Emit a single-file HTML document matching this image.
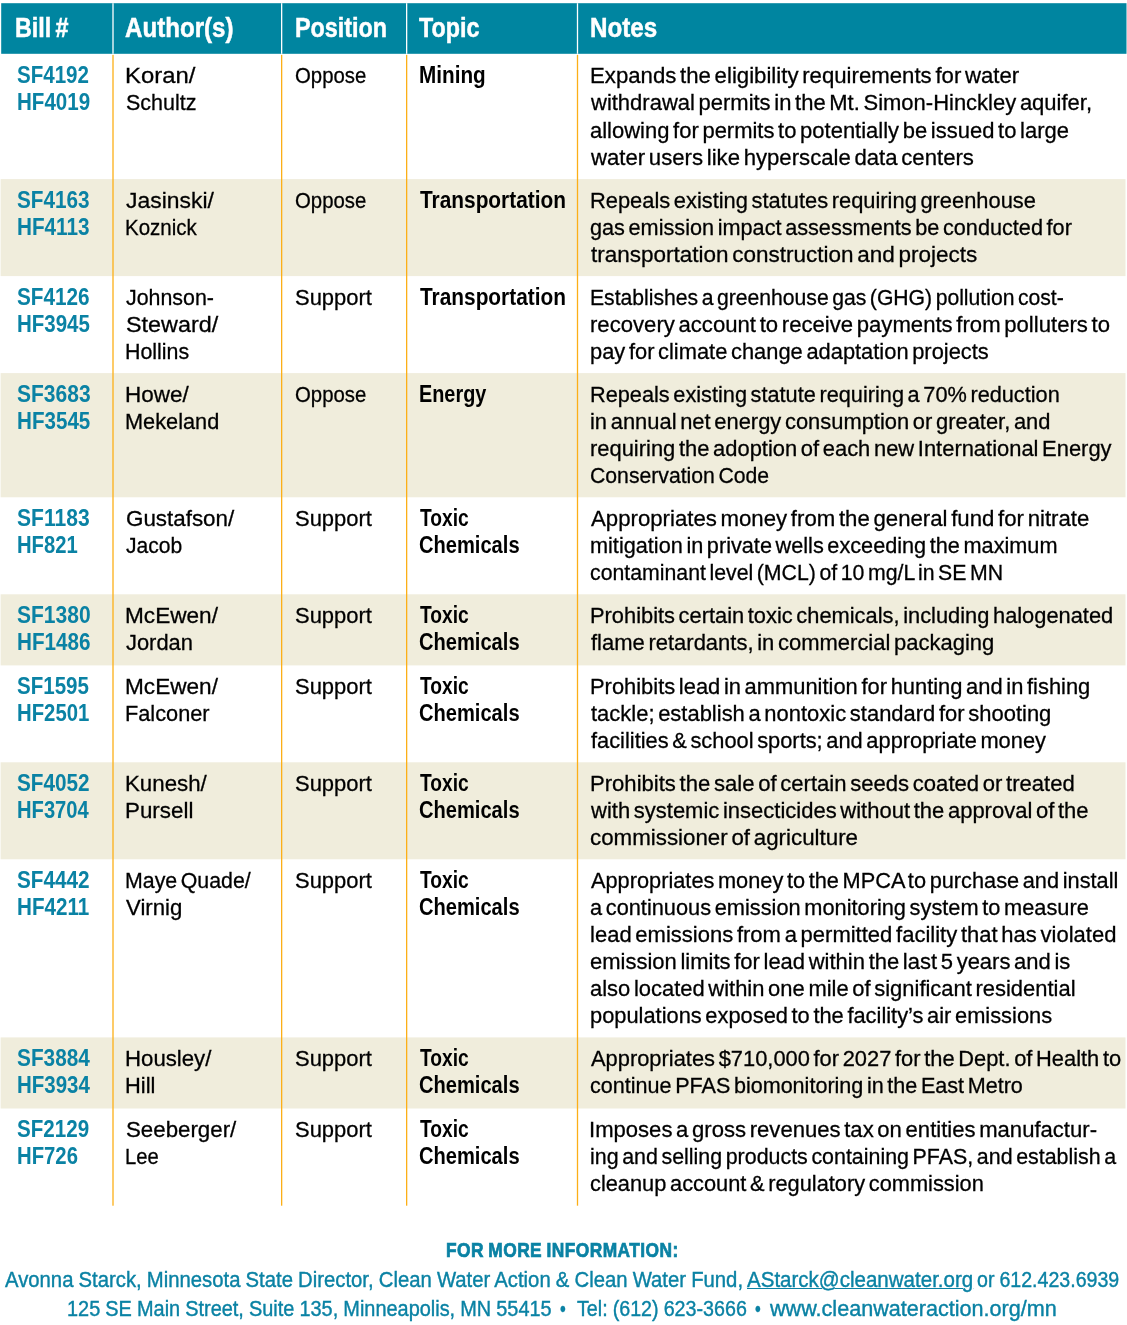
<!DOCTYPE html>
<html lang="en"><head><meta charset="utf-8"><title>Bill table</title>
<style>
html,body{margin:0;padding:0;background:#fff}
body{width:1127px;height:1325px;position:relative;overflow:hidden;font-family:"Liberation Sans",Arial,Helvetica,sans-serif}
.b{position:absolute}
.t{position:absolute;white-space:pre;transform-origin:0 0;margin:0;-webkit-text-stroke:0.3px currentColor}
.h{-webkit-text-stroke:0.5px #fff}
.f{-webkit-text-stroke:0.7px currentColor}
.g{-webkit-text-stroke:0.4px currentColor}
.u{text-decoration:underline;text-decoration-thickness:1.3px;text-underline-offset:1px}
</style></head><body>
<svg class="b" style="left:0;top:0" width="1127" height="1325" viewBox="0 0 1127 1325">
<rect x="1.2" y="3.2" width="1125.30" height="50.60" fill="#0085a0"/>
<rect x="0.6" y="179.10" width="1124.90" height="97.00" fill="#f0eddc"/>
<rect x="0.6" y="373.10" width="1124.90" height="124.20" fill="#f0eddc"/>
<rect x="0.6" y="594.30" width="1124.90" height="71.10" fill="#f0eddc"/>
<rect x="0.6" y="762.30" width="1124.90" height="97.00" fill="#f0eddc"/>
<rect x="0.6" y="1037.40" width="1124.90" height="71.10" fill="#f0eddc"/>
<rect x="112.35" y="3.2" width="1.3" height="50.60" fill="#fff"/>
<rect x="112.35" y="54.9" width="1.3" height="1150.80" fill="#fcaf17"/>
<rect x="281.00" y="3.2" width="1.3" height="50.60" fill="#fff"/>
<rect x="281.00" y="54.9" width="1.3" height="1150.80" fill="#fcaf17"/>
<rect x="406.00" y="3.2" width="1.3" height="50.60" fill="#fff"/>
<rect x="406.00" y="54.9" width="1.3" height="1150.80" fill="#fcaf17"/>
<rect x="576.85" y="3.2" width="1.3" height="50.60" fill="#fff"/>
<rect x="576.85" y="54.9" width="1.3" height="1150.80" fill="#fcaf17"/>
</svg>
<div class="t h" style="left:14.98px;top:10px;font-size:27px;line-height:36px;height:36px;transform:scaleX(0.8633);color:#fff;font-weight:bold;word-spacing:-2.5px;">Bill #</div>
<div class="t h" style="left:124.70px;top:10px;font-size:27px;line-height:36px;height:36px;transform:scaleX(0.8931);color:#fff;font-weight:bold;word-spacing:-2.5px;">Author(s)</div>
<div class="t h" style="left:294.68px;top:10px;font-size:27px;line-height:36px;height:36px;transform:scaleX(0.8639);color:#fff;font-weight:bold;word-spacing:-2.5px;">Position</div>
<div class="t h" style="left:419.27px;top:10px;font-size:27px;line-height:36px;height:36px;transform:scaleX(0.8625);color:#fff;font-weight:bold;word-spacing:-2.5px;">Topic</div>
<div class="t h" style="left:589.73px;top:10px;font-size:27px;line-height:36px;height:36px;transform:scaleX(0.8958);color:#fff;font-weight:bold;word-spacing:-2.5px;">Notes</div>
<div class="t " style="left:17.19px;top:59px;font-size:23px;line-height:32px;height:32px;transform:scaleX(0.8936);color:#0a82a4;font-weight:bold;-webkit-text-stroke:0;word-spacing:-2.5px;">SF4192</div>
<div class="t " style="left:17.26px;top:86px;font-size:23px;line-height:32px;height:32px;transform:scaleX(0.8935);color:#0a82a4;font-weight:bold;-webkit-text-stroke:0;word-spacing:-2.5px;">HF4019</div>
<div class="t " style="left:124.89px;top:60px;font-size:22.5px;line-height:31px;height:31px;transform:scaleX(1.0608);color:#000;word-spacing:-2.5px;">Koran/</div>
<div class="t " style="left:125.83px;top:87px;font-size:22.5px;line-height:31px;height:31px;transform:scaleX(0.9544);color:#000;word-spacing:-2.5px;">Schultz</div>
<div class="t " style="left:294.78px;top:60px;font-size:22.5px;line-height:31px;height:31px;transform:scaleX(0.9045);color:#000;word-spacing:-2.5px;">Oppose</div>
<div class="t " style="left:418.65px;top:59px;font-size:23px;line-height:32px;height:32px;transform:scaleX(0.9005);color:#000;font-weight:bold;-webkit-text-stroke:0;word-spacing:-2.5px;">Mining</div>
<div class="t " style="left:589.52px;top:60px;font-size:22.5px;line-height:31px;height:31px;transform:scaleX(0.9863);color:#000;word-spacing:-2.5px;">Expands the eligibility requirements for water</div>
<div class="t " style="left:591.41px;top:87px;font-size:22.5px;line-height:31px;height:31px;transform:scaleX(0.9772);color:#000;word-spacing:-2.5px;">withdrawal permits in the Mt. Simon-Hinckley aquifer,</div>
<div class="t " style="left:590.42px;top:115px;font-size:22.5px;line-height:31px;height:31px;transform:scaleX(0.9769);color:#000;word-spacing:-2.5px;">allowing for permits to potentially be issued to large</div>
<div class="t " style="left:591.41px;top:142px;font-size:22.5px;line-height:31px;height:31px;transform:scaleX(0.9845);color:#000;word-spacing:-2.5px;">water users like hyperscale data centers</div>
<div class="t " style="left:17.18px;top:184px;font-size:23px;line-height:32px;height:32px;transform:scaleX(0.9012);color:#0a82a4;font-weight:bold;-webkit-text-stroke:0;word-spacing:-2.5px;">SF4163</div>
<div class="t " style="left:17.25px;top:211px;font-size:23px;line-height:32px;height:32px;transform:scaleX(0.9003);color:#0a82a4;font-weight:bold;-webkit-text-stroke:0;word-spacing:-2.5px;">HF4113</div>
<div class="t " style="left:126.46px;top:185px;font-size:22.5px;line-height:31px;height:31px;transform:scaleX(1.0180);color:#000;word-spacing:-2.5px;">Jasinski/</div>
<div class="t " style="left:125.16px;top:212px;font-size:22.5px;line-height:31px;height:31px;transform:scaleX(0.9109);color:#000;word-spacing:-2.5px;">Koznick</div>
<div class="t " style="left:294.78px;top:185px;font-size:22.5px;line-height:31px;height:31px;transform:scaleX(0.9045);color:#000;word-spacing:-2.5px;">Oppose</div>
<div class="t " style="left:419.79px;top:184px;font-size:23px;line-height:32px;height:32px;transform:scaleX(0.9066);color:#000;font-weight:bold;-webkit-text-stroke:0;word-spacing:-2.5px;">Transportation</div>
<div class="t " style="left:589.55px;top:185px;font-size:22.5px;line-height:31px;height:31px;transform:scaleX(0.9713);color:#000;word-spacing:-2.5px;">Repeals existing statutes requiring greenhouse</div>
<div class="t " style="left:590.43px;top:212px;font-size:22.5px;line-height:31px;height:31px;transform:scaleX(0.9633);color:#000;word-spacing:-2.5px;">gas emission impact assessments be conducted for</div>
<div class="t " style="left:590.96px;top:239px;font-size:22.5px;line-height:31px;height:31px;transform:scaleX(0.9996);color:#000;word-spacing:-2.5px;">transportation construction and projects</div>
<div class="t " style="left:17.18px;top:281px;font-size:23px;line-height:32px;height:32px;transform:scaleX(0.9012);color:#0a82a4;font-weight:bold;-webkit-text-stroke:0;word-spacing:-2.5px;">SF4126</div>
<div class="t " style="left:17.27px;top:308px;font-size:23px;line-height:32px;height:32px;transform:scaleX(0.8909);color:#0a82a4;font-weight:bold;-webkit-text-stroke:0;word-spacing:-2.5px;">HF3945</div>
<div class="t " style="left:126.48px;top:282px;font-size:22.5px;line-height:31px;height:31px;transform:scaleX(0.9503);color:#000;word-spacing:-2.5px;">Johnson-</div>
<div class="t " style="left:125.75px;top:309px;font-size:22.5px;line-height:31px;height:31px;transform:scaleX(1.0380);color:#000;word-spacing:-2.5px;">Steward/</div>
<div class="t " style="left:125.09px;top:336px;font-size:22.5px;line-height:31px;height:31px;transform:scaleX(0.9505);color:#000;word-spacing:-2.5px;">Hollins</div>
<div class="t " style="left:294.61px;top:282px;font-size:22.5px;line-height:31px;height:31px;transform:scaleX(0.9764);color:#000;word-spacing:-2.5px;">Support</div>
<div class="t " style="left:419.79px;top:281px;font-size:23px;line-height:32px;height:32px;transform:scaleX(0.9066);color:#000;font-weight:bold;-webkit-text-stroke:0;word-spacing:-2.5px;">Transportation</div>
<div class="t " style="left:589.61px;top:282px;font-size:22.5px;line-height:31px;height:31px;transform:scaleX(0.9400);color:#000;word-spacing:-2.5px;">Establishes a greenhouse gas (GHG) pollution cost-</div>
<div class="t " style="left:589.86px;top:309px;font-size:22.5px;line-height:31px;height:31px;transform:scaleX(0.9830);color:#000;word-spacing:-2.5px;">recovery account to receive payments from polluters to</div>
<div class="t " style="left:589.99px;top:336px;font-size:22.5px;line-height:31px;height:31px;transform:scaleX(0.9720);color:#000;word-spacing:-2.5px;">pay for climate change adaptation projects</div>
<div class="t " style="left:17.17px;top:378px;font-size:23px;line-height:32px;height:32px;transform:scaleX(0.9138);color:#0a82a4;font-weight:bold;-webkit-text-stroke:0;word-spacing:-2.5px;">SF3683</div>
<div class="t " style="left:17.26px;top:405px;font-size:23px;line-height:32px;height:32px;transform:scaleX(0.8959);color:#0a82a4;font-weight:bold;-webkit-text-stroke:0;word-spacing:-2.5px;">HF3545</div>
<div class="t " style="left:125.00px;top:379px;font-size:22.5px;line-height:31px;height:31px;transform:scaleX(0.9986);color:#000;word-spacing:-2.5px;">Howe/</div>
<div class="t " style="left:125.06px;top:406px;font-size:22.5px;line-height:31px;height:31px;transform:scaleX(0.9662);color:#000;word-spacing:-2.5px;">Mekeland</div>
<div class="t " style="left:294.78px;top:379px;font-size:22.5px;line-height:31px;height:31px;transform:scaleX(0.9045);color:#000;word-spacing:-2.5px;">Oppose</div>
<div class="t " style="left:418.71px;top:378px;font-size:23px;line-height:32px;height:32px;transform:scaleX(0.8630);color:#000;font-weight:bold;-webkit-text-stroke:0;word-spacing:-2.5px;">Energy</div>
<div class="t " style="left:589.56px;top:379px;font-size:22.5px;line-height:31px;height:31px;transform:scaleX(0.9655);color:#000;word-spacing:-2.5px;">Repeals existing statute requiring a 70% reduction</div>
<div class="t " style="left:589.88px;top:406px;font-size:22.5px;line-height:31px;height:31px;transform:scaleX(0.9739);color:#000;word-spacing:-2.5px;">in annual net energy consumption or greater, and</div>
<div class="t " style="left:589.88px;top:433px;font-size:22.5px;line-height:31px;height:31px;transform:scaleX(0.9742);color:#000;word-spacing:-2.5px;">requiring the adoption of each new International Energy</div>
<div class="t " style="left:590.24px;top:460px;font-size:22.5px;line-height:31px;height:31px;transform:scaleX(0.9422);color:#000;word-spacing:-2.5px;">Conservation Code</div>
<div class="t " style="left:17.17px;top:502px;font-size:23px;line-height:32px;height:32px;transform:scaleX(0.9158);color:#0a82a4;font-weight:bold;-webkit-text-stroke:0;word-spacing:-2.5px;">SF1183</div>
<div class="t " style="left:17.28px;top:529px;font-size:23px;line-height:32px;height:32px;transform:scaleX(0.8800);color:#0a82a4;font-weight:bold;-webkit-text-stroke:0;word-spacing:-2.5px;">HF821</div>
<div class="t " style="left:125.68px;top:503px;font-size:22.5px;line-height:31px;height:31px;transform:scaleX(0.9947);color:#000;word-spacing:-2.5px;">Gustafson/</div>
<div class="t " style="left:126.48px;top:530px;font-size:22.5px;line-height:31px;height:31px;transform:scaleX(0.9366);color:#000;word-spacing:-2.5px;">Jacob</div>
<div class="t " style="left:294.61px;top:503px;font-size:22.5px;line-height:31px;height:31px;transform:scaleX(0.9764);color:#000;word-spacing:-2.5px;">Support</div>
<div class="t " style="left:419.81px;top:502px;font-size:23px;line-height:32px;height:32px;transform:scaleX(0.8348);color:#000;font-weight:bold;-webkit-text-stroke:0;word-spacing:-2.5px;">Toxic</div>
<div class="t " style="left:419.20px;top:529px;font-size:23px;line-height:32px;height:32px;transform:scaleX(0.8740);color:#000;font-weight:bold;-webkit-text-stroke:0;word-spacing:-2.5px;">Chemicals</div>
<div class="t " style="left:590.50px;top:503px;font-size:22.5px;line-height:31px;height:31px;transform:scaleX(0.9863);color:#000;word-spacing:-2.5px;">Appropriates money from the general fund for nitrate</div>
<div class="t " style="left:589.89px;top:530px;font-size:22.5px;line-height:31px;height:31px;transform:scaleX(0.9634);color:#000;word-spacing:-2.5px;">mitigation in private wells exceeding the maximum</div>
<div class="t " style="left:590.45px;top:557px;font-size:22.5px;line-height:31px;height:31px;transform:scaleX(0.9457);color:#000;word-spacing:-2.5px;">contaminant level (MCL) of 10 mg/L in SE MN</div>
<div class="t " style="left:17.17px;top:599px;font-size:23px;line-height:32px;height:32px;transform:scaleX(0.9138);color:#0a82a4;font-weight:bold;-webkit-text-stroke:0;word-spacing:-2.5px;">SF1380</div>
<div class="t " style="left:17.26px;top:626px;font-size:23px;line-height:32px;height:32px;transform:scaleX(0.8985);color:#0a82a4;font-weight:bold;-webkit-text-stroke:0;word-spacing:-2.5px;">HF1486</div>
<div class="t " style="left:124.99px;top:600px;font-size:22.5px;line-height:31px;height:31px;transform:scaleX(1.0045);color:#000;word-spacing:-2.5px;">McEwen/</div>
<div class="t " style="left:126.47px;top:627px;font-size:22.5px;line-height:31px;height:31px;transform:scaleX(0.9724);color:#000;word-spacing:-2.5px;">Jordan</div>
<div class="t " style="left:294.61px;top:600px;font-size:22.5px;line-height:31px;height:31px;transform:scaleX(0.9764);color:#000;word-spacing:-2.5px;">Support</div>
<div class="t " style="left:419.81px;top:599px;font-size:23px;line-height:32px;height:32px;transform:scaleX(0.8348);color:#000;font-weight:bold;-webkit-text-stroke:0;word-spacing:-2.5px;">Toxic</div>
<div class="t " style="left:419.20px;top:626px;font-size:23px;line-height:32px;height:32px;transform:scaleX(0.8740);color:#000;font-weight:bold;-webkit-text-stroke:0;word-spacing:-2.5px;">Chemicals</div>
<div class="t " style="left:589.55px;top:600px;font-size:22.5px;line-height:31px;height:31px;transform:scaleX(0.9706);color:#000;word-spacing:-2.5px;">Prohibits certain toxic chemicals, including halogenated</div>
<div class="t " style="left:591.08px;top:627px;font-size:22.5px;line-height:31px;height:31px;transform:scaleX(0.9772);color:#000;word-spacing:-2.5px;">flame retardants, in commercial packaging</div>
<div class="t " style="left:17.19px;top:670px;font-size:23px;line-height:32px;height:32px;transform:scaleX(0.8922);color:#0a82a4;font-weight:bold;-webkit-text-stroke:0;word-spacing:-2.5px;">SF1595</div>
<div class="t " style="left:17.28px;top:697px;font-size:23px;line-height:32px;height:32px;transform:scaleX(0.8834);color:#0a82a4;font-weight:bold;-webkit-text-stroke:0;word-spacing:-2.5px;">HF2501</div>
<div class="t " style="left:124.99px;top:671px;font-size:22.5px;line-height:31px;height:31px;transform:scaleX(1.0045);color:#000;word-spacing:-2.5px;">McEwen/</div>
<div class="t " style="left:125.06px;top:698px;font-size:22.5px;line-height:31px;height:31px;transform:scaleX(0.9661);color:#000;word-spacing:-2.5px;">Falconer</div>
<div class="t " style="left:294.61px;top:671px;font-size:22.5px;line-height:31px;height:31px;transform:scaleX(0.9764);color:#000;word-spacing:-2.5px;">Support</div>
<div class="t " style="left:419.81px;top:670px;font-size:23px;line-height:32px;height:32px;transform:scaleX(0.8348);color:#000;font-weight:bold;-webkit-text-stroke:0;word-spacing:-2.5px;">Toxic</div>
<div class="t " style="left:419.20px;top:697px;font-size:23px;line-height:32px;height:32px;transform:scaleX(0.8740);color:#000;font-weight:bold;-webkit-text-stroke:0;word-spacing:-2.5px;">Chemicals</div>
<div class="t " style="left:589.55px;top:671px;font-size:22.5px;line-height:31px;height:31px;transform:scaleX(0.9732);color:#000;word-spacing:-2.5px;">Prohibits lead in ammunition for hunting and in fishing</div>
<div class="t " style="left:590.97px;top:698px;font-size:22.5px;line-height:31px;height:31px;transform:scaleX(0.9762);color:#000;word-spacing:-2.5px;">tackle; establish a nontoxic standard for shooting</div>
<div class="t " style="left:591.08px;top:725px;font-size:22.5px;line-height:31px;height:31px;transform:scaleX(0.9700);color:#000;word-spacing:-2.5px;">facilities &amp; school sports; and appropriate money</div>
<div class="t " style="left:17.18px;top:767px;font-size:23px;line-height:32px;height:32px;transform:scaleX(0.9012);color:#0a82a4;font-weight:bold;-webkit-text-stroke:0;word-spacing:-2.5px;">SF4052</div>
<div class="t " style="left:17.29px;top:794px;font-size:23px;line-height:32px;height:32px;transform:scaleX(0.8770);color:#0a82a4;font-weight:bold;-webkit-text-stroke:0;word-spacing:-2.5px;">HF3704</div>
<div class="t " style="left:125.02px;top:768px;font-size:22.5px;line-height:31px;height:31px;transform:scaleX(0.9904);color:#000;word-spacing:-2.5px;">Kunesh/</div>
<div class="t " style="left:125.01px;top:795px;font-size:22.5px;line-height:31px;height:31px;transform:scaleX(0.9941);color:#000;word-spacing:-2.5px;">Pursell</div>
<div class="t " style="left:294.61px;top:768px;font-size:22.5px;line-height:31px;height:31px;transform:scaleX(0.9764);color:#000;word-spacing:-2.5px;">Support</div>
<div class="t " style="left:419.81px;top:767px;font-size:23px;line-height:32px;height:32px;transform:scaleX(0.8348);color:#000;font-weight:bold;-webkit-text-stroke:0;word-spacing:-2.5px;">Toxic</div>
<div class="t " style="left:419.20px;top:794px;font-size:23px;line-height:32px;height:32px;transform:scaleX(0.8740);color:#000;font-weight:bold;-webkit-text-stroke:0;word-spacing:-2.5px;">Chemicals</div>
<div class="t " style="left:589.53px;top:768px;font-size:22.5px;line-height:31px;height:31px;transform:scaleX(0.9813);color:#000;word-spacing:-2.5px;">Prohibits the sale of certain seeds coated or treated</div>
<div class="t " style="left:591.41px;top:795px;font-size:22.5px;line-height:31px;height:31px;transform:scaleX(0.9775);color:#000;word-spacing:-2.5px;">with systemic insecticides without the approval of the</div>
<div class="t " style="left:590.41px;top:822px;font-size:22.5px;line-height:31px;height:31px;transform:scaleX(0.9923);color:#000;word-spacing:-2.5px;">commissioner of agriculture</div>
<div class="t " style="left:17.18px;top:864px;font-size:23px;line-height:32px;height:32px;transform:scaleX(0.9012);color:#0a82a4;font-weight:bold;-webkit-text-stroke:0;word-spacing:-2.5px;">SF4442</div>
<div class="t " style="left:17.26px;top:891px;font-size:23px;line-height:32px;height:32px;transform:scaleX(0.8976);color:#0a82a4;font-weight:bold;-webkit-text-stroke:0;word-spacing:-2.5px;">HF4211</div>
<div class="t " style="left:125.09px;top:865px;font-size:22.5px;line-height:31px;height:31px;transform:scaleX(0.9479);color:#000;word-spacing:-2.5px;">Maye Quade/</div>
<div class="t " style="left:126.00px;top:892px;font-size:22.5px;line-height:31px;height:31px;transform:scaleX(0.9857);color:#000;word-spacing:-2.5px;">Virnig</div>
<div class="t " style="left:294.61px;top:865px;font-size:22.5px;line-height:31px;height:31px;transform:scaleX(0.9764);color:#000;word-spacing:-2.5px;">Support</div>
<div class="t " style="left:419.81px;top:864px;font-size:23px;line-height:32px;height:32px;transform:scaleX(0.8348);color:#000;font-weight:bold;-webkit-text-stroke:0;word-spacing:-2.5px;">Toxic</div>
<div class="t " style="left:419.20px;top:891px;font-size:23px;line-height:32px;height:32px;transform:scaleX(0.8740);color:#000;font-weight:bold;-webkit-text-stroke:0;word-spacing:-2.5px;">Chemicals</div>
<div class="t " style="left:590.50px;top:865px;font-size:22.5px;line-height:31px;height:31px;transform:scaleX(0.9670);color:#000;word-spacing:-2.5px;">Appropriates money to the MPCA to purchase and install</div>
<div class="t " style="left:590.43px;top:892px;font-size:22.5px;line-height:31px;height:31px;transform:scaleX(0.9680);color:#000;word-spacing:-2.5px;">a continuous emission monitoring system to measure</div>
<div class="t " style="left:589.87px;top:919px;font-size:22.5px;line-height:31px;height:31px;transform:scaleX(0.9789);color:#000;word-spacing:-2.5px;">lead emissions from a permitted facility that has violated</div>
<div class="t " style="left:590.42px;top:946px;font-size:22.5px;line-height:31px;height:31px;transform:scaleX(0.9773);color:#000;word-spacing:-2.5px;">emission limits for lead within the last 5 years and is</div>
<div class="t " style="left:590.42px;top:973px;font-size:22.5px;line-height:31px;height:31px;transform:scaleX(0.9754);color:#000;word-spacing:-2.5px;">also located within one mile of significant residential</div>
<div class="t " style="left:589.99px;top:1000px;font-size:22.5px;line-height:31px;height:31px;transform:scaleX(0.9706);color:#000;word-spacing:-2.5px;">populations exposed to the facility’s air emissions</div>
<div class="t " style="left:17.18px;top:1042px;font-size:23px;line-height:32px;height:32px;transform:scaleX(0.9046);color:#0a82a4;font-weight:bold;-webkit-text-stroke:0;word-spacing:-2.5px;">SF3884</div>
<div class="t " style="left:17.27px;top:1069px;font-size:23px;line-height:32px;height:32px;transform:scaleX(0.8895);color:#0a82a4;font-weight:bold;-webkit-text-stroke:0;word-spacing:-2.5px;">HF3934</div>
<div class="t " style="left:125.02px;top:1043px;font-size:22.5px;line-height:31px;height:31px;transform:scaleX(0.9867);color:#000;word-spacing:-2.5px;">Housley/</div>
<div class="t " style="left:125.05px;top:1070px;font-size:22.5px;line-height:31px;height:31px;transform:scaleX(0.9710);color:#000;word-spacing:-2.5px;">Hill</div>
<div class="t " style="left:294.61px;top:1043px;font-size:22.5px;line-height:31px;height:31px;transform:scaleX(0.9764);color:#000;word-spacing:-2.5px;">Support</div>
<div class="t " style="left:419.81px;top:1042px;font-size:23px;line-height:32px;height:32px;transform:scaleX(0.8348);color:#000;font-weight:bold;-webkit-text-stroke:0;word-spacing:-2.5px;">Toxic</div>
<div class="t " style="left:419.20px;top:1069px;font-size:23px;line-height:32px;height:32px;transform:scaleX(0.8740);color:#000;font-weight:bold;-webkit-text-stroke:0;word-spacing:-2.5px;">Chemicals</div>
<div class="t " style="left:590.50px;top:1043px;font-size:22.5px;line-height:31px;height:31px;transform:scaleX(0.9721);color:#000;word-spacing:-2.5px;">Appropriates $710,000 for 2027 for the Dept. of Health to</div>
<div class="t " style="left:590.44px;top:1070px;font-size:22.5px;line-height:31px;height:31px;transform:scaleX(0.9586);color:#000;word-spacing:-2.5px;">continue PFAS biomonitoring in the East Metro</div>
<div class="t " style="left:17.19px;top:1113px;font-size:23px;line-height:32px;height:32px;transform:scaleX(0.8948);color:#0a82a4;font-weight:bold;-webkit-text-stroke:0;word-spacing:-2.5px;">SF2129</div>
<div class="t " style="left:17.28px;top:1140px;font-size:23px;line-height:32px;height:32px;transform:scaleX(0.8831);color:#0a82a4;font-weight:bold;-webkit-text-stroke:0;word-spacing:-2.5px;">HF726</div>
<div class="t " style="left:125.80px;top:1114px;font-size:22.5px;line-height:31px;height:31px;transform:scaleX(0.9904);color:#000;word-spacing:-2.5px;">Seeberger/</div>
<div class="t " style="left:125.18px;top:1141px;font-size:22.5px;line-height:31px;height:31px;transform:scaleX(0.8975);color:#000;word-spacing:-2.5px;">Lee</div>
<div class="t " style="left:294.61px;top:1114px;font-size:22.5px;line-height:31px;height:31px;transform:scaleX(0.9764);color:#000;word-spacing:-2.5px;">Support</div>
<div class="t " style="left:419.81px;top:1113px;font-size:23px;line-height:32px;height:32px;transform:scaleX(0.8348);color:#000;font-weight:bold;-webkit-text-stroke:0;word-spacing:-2.5px;">Toxic</div>
<div class="t " style="left:419.20px;top:1140px;font-size:23px;line-height:32px;height:32px;transform:scaleX(0.8740);color:#000;font-weight:bold;-webkit-text-stroke:0;word-spacing:-2.5px;">Chemicals</div>
<div class="t " style="left:589.31px;top:1114px;font-size:22.5px;line-height:31px;height:31px;transform:scaleX(0.9811);color:#000;word-spacing:-2.5px;">Imposes a gross revenues tax on entities manufactur-</div>
<div class="t " style="left:589.91px;top:1141px;font-size:22.5px;line-height:31px;height:31px;transform:scaleX(0.9516);color:#000;word-spacing:-2.5px;">ing and selling products containing PFAS, and establish a</div>
<div class="t " style="left:590.43px;top:1168px;font-size:22.5px;line-height:31px;height:31px;transform:scaleX(0.9690);color:#000;word-spacing:-2.5px;">cleanup account &amp; regulatory commission</div>
<div class="t f" style="left:446.17px;top:1236px;font-size:20px;line-height:28px;height:28px;transform:scaleX(0.8676);color:#0a82a4;font-weight:bold;letter-spacing:0.5px;word-spacing:-1px;">FOR MORE INFORMATION:</div>
<div class="t g" style="left:4.90px;top:1264px;font-size:22px;line-height:31px;height:31px;transform:scaleX(0.9217);color:#0a82a4;word-spacing:-0.5px;">Avonna Starck, Minnesota State Director, Clean Water Action &amp; Clean Water Fund,</div>
<div class="t u g" style="left:747.00px;top:1264px;font-size:22px;line-height:31px;height:31px;transform:scaleX(0.9331);color:#0a82a4;word-spacing:-0.5px;">AStarck@cleanwater.org</div>
<div class="t g" style="left:977.22px;top:1264px;font-size:22px;line-height:31px;height:31px;transform:scaleX(0.8904);color:#0a82a4;word-spacing:-0.5px;">or 612.423.6939</div>
<div class="t g" style="left:66.91px;top:1293px;font-size:22px;line-height:31px;height:31px;transform:scaleX(0.9054);color:#0a82a4;word-spacing:-0.5px;">125 SE Main Street, Suite 135, Minneapolis, MN 55415</div>
<div class="t g" style="left:560.02px;top:1293px;font-size:22px;line-height:31px;height:31px;transform:scaleX(0.7468);color:#0a82a4;word-spacing:-0.5px;">•</div>
<div class="t g" style="left:576.61px;top:1293px;font-size:22px;line-height:31px;height:31px;transform:scaleX(0.8948);color:#0a82a4;word-spacing:-0.5px;">Tel: (612) 623-3666</div>
<div class="t g" style="left:755.02px;top:1293px;font-size:22px;line-height:31px;height:31px;transform:scaleX(0.7468);color:#0a82a4;word-spacing:-0.5px;">•</div>
<div class="t g" style="left:770.31px;top:1293px;font-size:22px;line-height:31px;height:31px;transform:scaleX(0.9812);color:#0a82a4;word-spacing:-0.5px;">www.cleanwateraction.org/mn</div>
</body></html>
